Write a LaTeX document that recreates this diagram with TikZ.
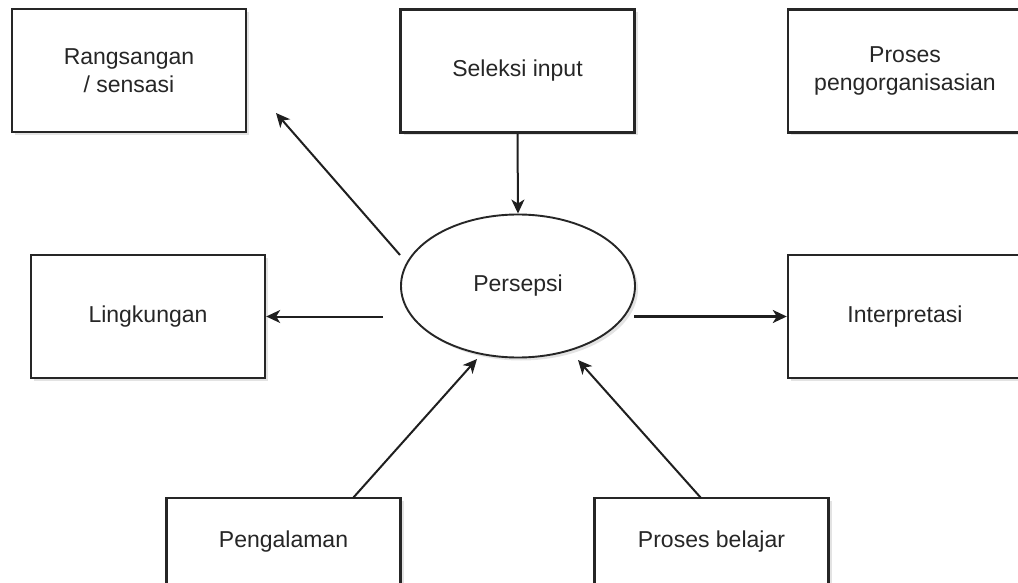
\documentclass[tikz,border=0pt]{standalone}
\usepackage{fontspec}
\setmainfont{Liberation Sans}
\usetikzlibrary{shapes.geometric,shadows,arrows.meta}
\begin{document}
\begin{tikzpicture}[x=1pt,y=-1pt,
  txt/.style={font=\fontsize{23}{28}\selectfont, text=black!85, align=center},
  box/.style={txt, draw=black!85, line width=2.4pt, fill=white,
    minimum width=234pt, minimum height=123pt, inner sep=0pt,
    drop shadow={shadow xshift=3pt, shadow yshift=-3pt, opacity=0.22}},
  lowbox/.style={box, minimum height=88pt},
  oval/.style={txt, ellipse, draw=black!85, line width=1.9pt, fill=white,
    minimum width=234pt, minimum height=143pt, inner sep=0pt,
    drop shadow={shadow xshift=3pt, shadow yshift=-3pt, opacity=0.22}},
  arr/.style={draw=black!88, line width=2pt,
    -{Stealth[length=14pt, width=13pt, inset=4pt]}}]
\path[use as bounding box] (0,0) rectangle (1018,583);
\clip (0,0) rectangle (1018,583);

\node[box] (rang) at (129,70.5) {Rangsangan\\/ sensasi};
\node[box] (sel) at (517.5,71) {Seleksi input};
\node[box] (org) at (905,71) {Proses\\pengorganisasian};
\node[box] (ling) at (148,316.5) {Lingkungan};
\node[box] (interp) at (905,316.5) {Interpretasi};
\node[lowbox] (peng) at (283.5,542) {Pengalaman};
\node[lowbox] (bel) at (711.5,542) {Proses belajar};
\node[oval] (pers) at (518,286) {Persepsi};

\coordinate (r1) at (400,255);
\coordinate (r2) at (276,113);
\coordinate (l1) at (383,316.5);
\coordinate (i1) at (634,316.5);
\coordinate (p1) at (353,498);
\coordinate (p2) at (477,359);
\coordinate (b1) at (701,498);
\coordinate (b2) at (578,360);

\draw[arr] (sel.south) -- (pers.north);
\draw[arr] (r1) -- (r2);
\draw[arr] (l1) -- (ling.east);
\draw[arr, line width=2.4pt] (i1) -- (interp.west);
\draw[arr] (p1) -- (p2);
\draw[arr] (b1) -- (b2);
\end{tikzpicture}
\end{document}
